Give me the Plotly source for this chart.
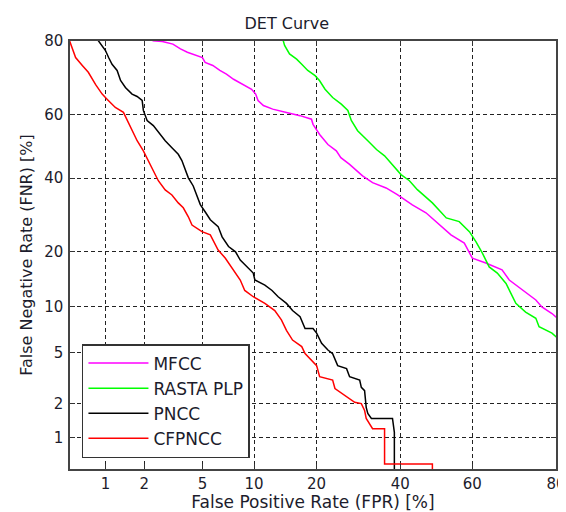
from statistics import NormalDist
import plotly.graph_objects as go

# ---- data (percent) ----
tick_vals_pct = [1, 2, 5, 10, 20, 40, 60, 80]
tick_labels = ["1", "2", "5", "10", "20", "40", "60", "80"]
axis_range_pct = [0.5, 80]

mfcc_fpr = [2.3, 2.7, 3.2, 3.6, 4.0, 4.6, 5.0, 5.2, 5.8, 6.4, 7.0, 7.7, 8.7, 9.7, 10.2,
            10.5, 11.2, 12.5, 14.6, 16.9, 19.0, 19.3, 20.6, 22.3, 24.1, 25.1, 27.1, 30.2, 32.7, 36.2,
            39.2, 43.3, 47.1, 50.9, 54.1, 57.8, 60.0, 63.6, 67.8, 69.6, 71.2, 73.5, 75.8, 77.1, 79.2, 80.5]
mfcc_fnr = [80.05, 79.9, 79.3, 78.2, 77.4, 76.6, 76.1, 74.9, 74.1, 72.8, 71.8, 70.4, 69.0, 67.6, 66.2,
            64.3, 62.8, 61.7, 60.7, 59.7, 58.6, 57.0, 53.8, 50.6, 48.6, 46.4, 44.3, 40.7, 38.6, 37.0,
            35.0, 32.0, 29.8, 26.5, 24.0, 22.0, 18.6, 17.6, 16.2, 14.3, 13.4, 12.1, 11.0, 10.0, 9.1, 8.4]

rasta_fpr = [14.0, 14.3, 15.1, 16.3, 17.2, 18.3, 19.7, 20.6, 21.7, 23.3, 25.2, 26.7, 27.5, 29.0, 31.5,
             33.7, 35.8, 37.9, 40.2, 42.5, 44.7, 48.9, 52.8, 56.4, 59.2, 61.0, 62.7, 64.5, 66.6, 68.8,
             70.0, 71.2, 73.5, 75.8, 76.5, 79.2, 80.5]
rasta_fnr = [80.5, 79.0, 77.0, 75.7, 74.4, 72.8, 71.4, 70.0, 67.6, 65.2, 63.2, 61.3, 58.2, 55.0, 51.8,
             49.0, 47.0, 44.3, 41.1, 39.2, 36.5, 32.6, 28.4, 27.4, 24.8, 22.3, 19.7, 16.8, 15.6, 13.7,
             12.1, 10.5, 9.3, 8.5, 7.5, 6.8, 6.2]

pncc_fpr = [0.85, 0.94, 1.0, 1.06, 1.13, 1.24, 1.32, 1.44, 1.62, 1.77, 1.93, 1.97, 2.10, 2.33, 2.61,
            2.83, 3.15, 3.48, 3.68, 3.88, 4.06, 4.37, 4.62, 4.85, 5.2, 5.6, 6.25, 6.6, 7.2, 7.9,
            8.4, 9.3, 9.9, 10.1, 11.4, 12.4, 13.3, 14.6, 15.6, 16.9, 17.8, 19.3, 20.0, 21.0, 22.3,
            23.3, 24.4, 26.4, 27.1, 29.5, 29.9, 30.7, 31.1, 31.5, 32.4, 37.9, 38.4, 38.4]
pncc_fnr = [80.5, 79.0, 77.8, 76.1, 74.4, 72.8, 70.1, 68.1, 66.2, 65.5, 64.3, 61.3, 58.2, 56.6, 53.7,
            51.8, 49.6, 47.5, 45.5, 42.7, 40.1, 37.6, 34.6, 32.1, 30.1, 27.9, 26.1, 23.5, 21.2, 20.0,
            18.2, 16.6, 15.6, 14.3, 13.4, 12.5, 11.5, 10.5, 9.5, 8.7, 7.3, 7.3, 6.8, 5.8, 5.2,
            4.9, 4.0, 3.8, 3.3, 3.1, 2.72, 2.56, 1.86, 1.65, 1.49, 1.49, 1.12, 0.4]

cfpncc_fpr = [0.48, 0.56, 0.64, 0.72, 0.83, 0.94, 1.03, 1.20, 1.39, 1.49, 1.62, 1.77, 1.97, 2.14, 2.33,
              2.53, 2.83, 3.15, 3.48, 3.76, 4.06, 4.29, 4.97, 5.6, 6.25, 6.9, 7.5, 8.4, 8.9, 9.9,
              11.4, 12.8, 13.8, 14.6, 15.6, 17.2, 17.8, 19.0, 20.0, 20.6, 23.3, 23.8, 25.5, 28.3, 29.9,
              30.7, 31.1, 32.7, 35.8, 35.8, 48.9, 48.9]
cfpncc_fnr = [81.0, 76.1, 74.1, 72.3, 68.9, 66.2, 64.7, 62.2, 60.7, 58.2, 55.0, 51.8, 48.6, 45.7, 42.3,
              39.2, 36.4, 34.9, 32.6, 31.2, 28.7, 26.5, 24.8, 24.0, 20.4, 18.6, 16.6, 14.3, 12.5, 11.5,
              10.5, 9.5, 8.3, 7.1, 6.1, 5.5, 4.9, 4.4, 4.0, 3.3, 3.1, 2.66, 2.42, 2.05, 2.0,
              1.75, 1.49, 1.21, 1.21, 0.56, 0.56, 0.4]

series_names = ["MFCC", "RASTA PLP", "PNCC", "CFPNCC"]
series_colors = ["#FF00FF", "#00FF00", "#000000", "#FF0000"]

# ---- probit (normal deviate) scale ----
nd = NormalDist()


def probit(pcts):
    return [nd.inv_cdf(p / 100.0) for p in pcts]


series = [(mfcc_fpr, mfcc_fnr), (rasta_fpr, rasta_fnr), (pncc_fpr, pncc_fnr), (cfpncc_fpr, cfpncc_fnr)]

fig = go.Figure()
for (fx, fy), name, col in zip(series, series_names, series_colors):
    fig.add_trace(go.Scatter(x=probit(fx), y=probit(fy), mode="lines", name=name,
                             line=dict(color=col, width=1.5)))

font_fam = "DejaVu Sans, Arial, sans-serif"
txt_col = "#1c1c2c"
axis_common = dict(
    range=probit(axis_range_pct),
    tickvals=probit(tick_vals_pct),
    ticktext=tick_labels,
    ticks="inside", ticklen=5, tickcolor="#333", tickwidth=1,
    showline=True, linecolor="#444", linewidth=1.5, mirror="ticks",
    showgrid=True, gridcolor="#222", gridwidth=1.2, griddash="4px,3px",
    zeroline=False, automargin=False,
    tickfont=dict(size=15, color=txt_col, family=font_fam),
)

# The page body adds an 8px offset, so the figure is sized to fill the 566x512 window.
fig_w, fig_h = 558, 504
fig.update_layout(
    width=fig_w, height=fig_h,
    margin=dict(l=62, r=10, t=33, b=43),
    plot_bgcolor="white", paper_bgcolor="white",
    font=dict(family=font_fam, size=15, color=txt_col),
    title=dict(text="DET Curve", x=0.446, xref="paper", xanchor="center",
               y=1 - 15 / fig_h, yref="container", yanchor="middle",
               font=dict(size=16, color=txt_col), automargin=False),
    xaxis=dict(axis_common, ticklabelstandoff=0,
               title=dict(text="False Positive Rate (FPR) [%]",
                          font=dict(size=17), standoff=12)),
    yaxis=dict(axis_common, ticklabelstandoff=2,
               title=dict(text="False Negative Rate (FNR) [%]",
                          font=dict(size=16), standoff=8)),
    legend=dict(x=0.0246, y=0.0257, xanchor="left", yanchor="bottom",
                bgcolor="white", bordercolor="#333", borderwidth=1.5,
                font=dict(size=17, color=txt_col), itemwidth=60,
                tracegroupgap=0),
    showlegend=True,
)

fig.write_html("out.html")
